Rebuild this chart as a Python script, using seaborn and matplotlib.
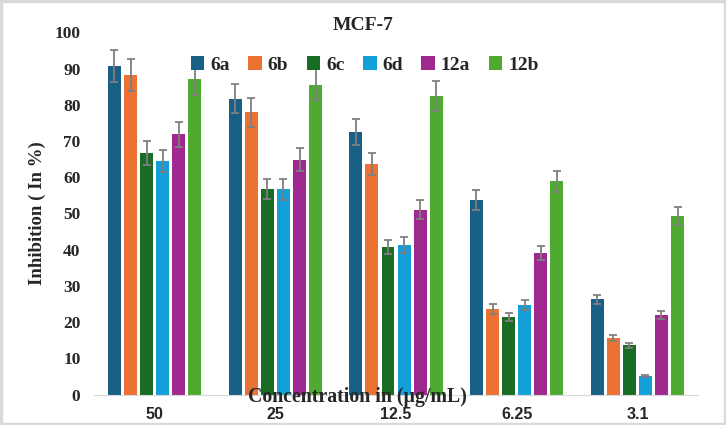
import matplotlib
matplotlib.use("Agg")
import matplotlib.pyplot as plt
import seaborn as sns
import pandas as pd
import numpy as np
from matplotlib.patches import Rectangle

concentrations = ["50", "25", "12.5", "6.25", "3.1"]
compounds = ["6a", "6b", "6c", "6d", "12a", "12b"]

v_6a = [90.7, 81.7, 72.5, 53.7, 26.3]
v_6b = [88.3, 77.9, 63.7, 23.6, 15.6]
v_6c = [66.7, 56.8, 40.7, 21.4, 13.6]
v_6d = [64.5, 56.7, 41.3, 24.8, 5.1]
v_12a = [71.8, 64.9, 51.0, 39.1, 22.1]
v_12b = [87.0, 85.5, 82.4, 58.9, 49.2]

e_6a = [4.5, 4.1, 3.6, 2.7, 1.3]
e_6b = [4.4, 4.0, 3.1, 1.3, 0.9]
e_6c = [3.3, 2.8, 1.9, 1.1, 0.7]
e_6d = [3.1, 2.9, 2.1, 1.3, 0.3]
e_12a = [3.5, 3.3, 2.6, 2.0, 1.1]
e_12b = [4.4, 4.3, 4.2, 2.9, 2.5]

colors = ["#1a5f85", "#eb7233", "#1a6b24", "#13a0d8", "#a0298f", "#50aa32"]

values = [v_6a, v_6b, v_6c, v_6d, v_12a, v_12b]
errors = [e_6a, e_6b, e_6c, e_6d, e_12a, e_12b]

rows = []
for comp, vals, errs in zip(compounds, values, errors):
    for c, v, e in zip(concentrations, vals, errs):
        rows.append({"conc": c, "compound": comp, "value": v, "err": e})
df = pd.DataFrame(rows)

sns.set_style("white")
fig = plt.figure(figsize=(7.26, 4.25), dpi=100)
ax = fig.add_axes([0.130, 0.0713, 0.831, 0.8527])

sns.barplot(data=df, x="conc", y="value", hue="compound", order=concentrations,
            hue_order=compounds, palette=colors, width=0.8, gap=0.2,
            errorbar=None, ax=ax, saturation=1, linewidth=0)

for cont, comp in zip(ax.containers, compounds):
    sub = df[df.compound == comp].set_index("conc").loc[concentrations]
    xs = [p.get_x() + p.get_width() / 2 for p in cont.patches]
    ax.errorbar(xs, sub["value"].values, yerr=sub["err"].values, fmt="none",
                ecolor="#7f7f7f", elinewidth=1.3, capsize=3, capthick=1.3, zorder=5)

ax.set_ylim(0, 100)
ax.set_xlim(-0.5, 4.5)
ax.set_yticks(range(0, 101, 10))
ax.set_yticklabels([str(t) for t in range(0, 101, 10)],
                   fontfamily="Liberation Serif", fontweight="bold", fontsize=12.5)
ax.set_xticks(range(len(concentrations)))
ax.set_xticklabels(concentrations, fontfamily="Liberation Sans", fontweight="bold", fontsize=11.5)
ax.tick_params(axis="x", length=0, pad=9)
ax.tick_params(axis="y", length=0, pad=10)
for s in ["top", "right", "left"]:
    ax.spines[s].set_visible(False)
ax.spines["bottom"].set_color("#d9d9d9")
ax.spines["bottom"].set_linewidth(0.8)
ax.set_xlabel("")
ax.set_ylabel("Inhibition ( In %)", fontfamily="Liberation Serif", fontweight="bold",
              fontsize=13.5, labelpad=6)

fig.text(0.5, 0.94, "MCF-7", ha="center", va="center",
         fontfamily="Liberation Serif", fontweight="bold", fontsize=14)
fig.text(0.493, 0.066, "Concentration in (µg/mL)", ha="center", va="center",
         fontfamily="Liberation Serif", fontweight="bold", fontsize=14.3)

handles, labels = ax.get_legend_handles_labels()
leg = ax.legend(handles, labels, loc="center", bbox_to_anchor=(0.448, 0.91), ncol=6,
                frameon=False, handlelength=0.7, handleheight=0.7, handletextpad=0.3,
                columnspacing=0.95, prop={"family": "Liberation Serif", "weight": "bold", "size": 14})

fig.patches.append(Rectangle((0.0015, 0.0025), 0.997, 0.995, transform=fig.transFigure,
                             fill=False, edgecolor="#d9d9d9", linewidth=2.5))

fig.savefig("out.png", dpi=100)
